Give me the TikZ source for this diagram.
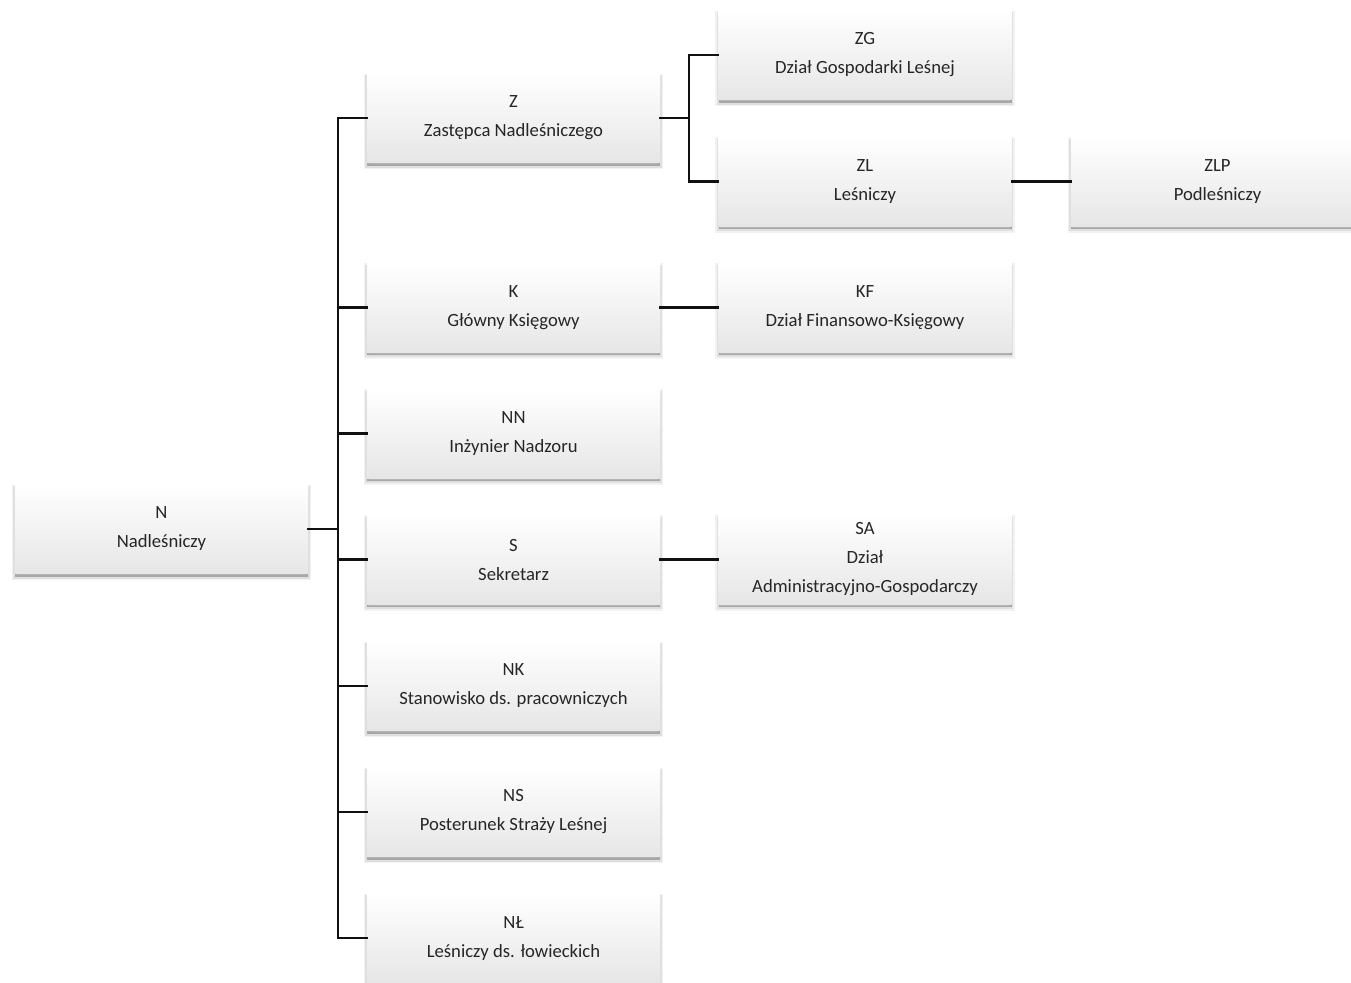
\documentclass[tikz,border=0pt]{standalone}
\usepackage{fontspec}
\setmainfont{Carlito}
\definecolor{orgtext}{HTML}{262626}
\definecolor{orgline}{HTML}{111111}
\definecolor{orgshade}{HTML}{E6E6E6}

\begin{document}
\begin{tikzpicture}[x=0.75pt,y=-0.75pt,
  unit/.style={top color=white,middle color=white,bottom color=orgshade,
    minimum width=219.75pt,minimum height=66.75pt,inner sep=0pt,align=center,
    font=\fontsize{14}{21.75}\selectfont,text=orgtext,
    preaction={draw=black,line width=5pt,opacity=0.05,
      transform canvas={yshift=-2.5pt}},
    preaction={draw=black,line width=2.5pt,opacity=0.08,
      transform canvas={yshift=-2.5pt}},
    preaction={fill=black,opacity=0.25,transform canvas={yshift=-2.5pt}}},
  link/.style={line width=1.8pt,orgline,line cap=rect}]
  \useasboundingbox (0,0) rectangle (1351,982);
  \clip (0,0) rectangle (1351,982);
  % head of the unit
  \node[unit] (n) at (161.5,529) {N\\Nadleśniczy};
  % first level
  \node[unit] (z) at (513.5,118) {Z\\Zastępca Nadleśniczego};
  \node[unit] (k) at (513.5,307.5) {K\\Główny Księgowy};
  \node[unit] (nn) at (513.5,433.5) {NN\\Inżynier Nadzoru};
  \node[unit] (s) at (513.5,559.5) {S\\Sekretarz};
  \node[unit] (nk) at (513.5,686) {NK\\Stanowisko ds. pracowniczych};
  \node[unit] (ns) at (513.5,812) {NS\\Posterunek Straży Leśnej};
  \node[unit] (nl) at (513.5,938) {NŁ\\Leśniczy ds. łowieckich};
  % second level
  \node[unit] (zg) at (865,55) {ZG\\Dział Gospodarki Leśnej};
  \node[unit] (zl) at (865,181.5) {ZL\\Leśniczy};
  \node[unit] (kf) at (865,307.5) {KF\\Dział Finansowo-Księgowy};
  \node[unit] (sa) at (865,559.5) {SA\\Dział\\Administracyjno-Gospodarczy};
  % third level
  \node[unit] (zlp) at (1217.5,181.5) {ZLP\\Podleśniczy};

  \coordinate (bus) at (338,529);
  \coordinate (zfork) at (689,118);
  \draw[link] (n.east) -- (bus);
  \draw[link] (bus |- z.west) -- (bus |- nl.west);
  \foreach \u in {z,k,nn,s,nk,ns,nl}
    \draw[link] (bus |- \u.west) -- (\u.west);
  \draw[link] (z.east) -- (zfork);
  \draw[link] (zg.west) -| (zfork) |- (zl.west);
  \draw[link] (k.east) -- (kf.west);
  \draw[link] (s.east) -- (sa.west);
  \draw[link] (zl.east) -- (zlp.west);
\end{tikzpicture}
\end{document}
